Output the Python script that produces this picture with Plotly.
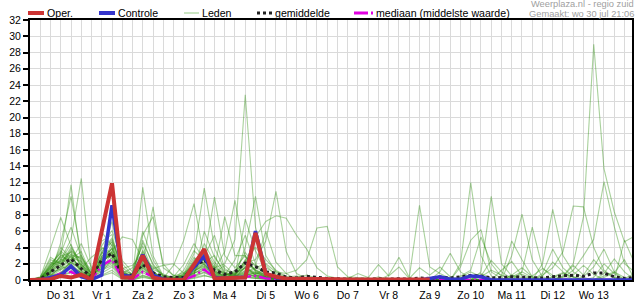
import plotly.graph_objects as go
import pandas as pd

# ---------------- data ----------------
start = "2025-07-30 18:00"          # first 6-hourly step
n_steps = 60
tijden = pd.date_range(start, periods=n_steps, freq="6h")

dag_labels = ["Do 31", "Vr 1", "Za 2", "Zo 3", "Ma 4", "Di 5", "Wo 6",
              "Do 7", "Vr 8", "Za 9", "Zo 10", "Ma 11", "Di 12", "Wo 13"]
dag_datums = ["2025-07-31", "2025-08-01", "2025-08-02", "2025-08-03", "2025-08-04",
              "2025-08-05", "2025-08-06", "2025-08-07", "2025-08-08", "2025-08-09",
              "2025-08-10", "2025-08-11", "2025-08-12", "2025-08-13"]

y_ticks = [0, 2, 4, 6, 8, 10, 12, 14, 16, 18, 20, 22, 24, 26, 28, 30, 32]

oper = [0, 0, 0.1, 0.5, 0.3, 0.65, 0.05, 6.0, 11.9, 0.3,
        0.3, 3.0, 0.3, 0.05, 0, 0, 1.9, 3.8, 0.2, 0.2,
        0.3, 0.3, 5.8, 0.75, 0.4, 0.15, 0.15, 0.15, 0.2, 0.15,
        0.1, 0.05, 0.05, 0.05, 0.05, 0.05, 0.05, 0.05, 0.05, 0.05]

controle = [0, 0, 0.3, 0.6, 1.7, 0.4, 0.05, 0.6, 9.2, 0.6,
            0.4, 3.1, 0.6, 0.1, 0, 0.1, 1.6, 2.95, 0.3, 0.2,
            0.3, 0.3, 6.0, 0.8, 0.3, 0, 0, 0, 0, 0,
            0, 0, 0, 0, 0, 0, 0, 0, 0, 0.2,
            0.4, 0.1, 0.1, 0.5, 0.4, 0, 0, 0, 0, 0,
            0, 0, 0, 0, 0, 0, 0, 0, 0, 0]

gemiddelde = [0, 0.1, 1.0, 1.8, 2.6, 1.4, 0.4, 2.5, 3.3, 0.6,
              0.6, 1.9, 0.9, 0.4, 0.3, 0.3, 1.6, 2.5, 1.2, 0.7,
              1.0, 2.1, 1.65, 1.0, 0.85, 0.35, 0.25, 0.45, 0.3, 0.2,
              0.15, 0.1, 0.1, 0.1, 0.15, 0.1, 0.15, 0.1, 0.25, 0.2,
              0.35, 0.25, 0.4, 0.55, 0.5, 0.25, 0.3, 0.4, 0.35, 0.3,
              0.25, 0.4, 0.5, 0.6, 0.45, 0.85, 0.85, 0.4, 0.2, 0.3]

mediaan = [0, 0, 0.3, 0.8, 1.0, 0.4, 0.1, 1.8, 2.5, 0.3,
           0.1, 1.0, 0.4, 0.05, 0, 0.05, 0.5, 1.3, 0.3, 0.2,
           0.3, 0.4, 0.5, 0.2, 0.1, 0, 0, 0, 0, 0,
           0, 0, 0, 0, 0, 0, 0, 0, 0, 0,
           0, 0, 0, 0, 0, 0, 0, 0, 0, 0,
           0, 0, 0, 0, 0, 0, 0, 0, 0, 0]

# ensemble members, steps 0..25
leden_a = [
    [0,.1,1.2,2.5,5.0,12.5,.8, 2.1,3.4,.5, .3,1.8,.6, 0,0,.4,1.2, 2.0,.6,.3,.8, 1.5,.8,.3,.1,0],
    [0,.2,1.5,3.0,11.7,2.0,.4, 3.5,5.2,1.0, .5,2.4,.8, .1,0,.5,2.1, 3.0,1.0,.4,.2, .8,.5,.2,0,0],
    [0,.1,.8,4.6,10.3,3.1,.2, 1.8,4.0,.4, .2,3.5,1.1, 0,.2,.3,.9, 1.2,.5,.2,.4, 2.5,1.2,.6,.3,.1],
    [0,.3,3.9,7.7,4.2,1.5,.6, 2.6,3.1,.3, .1,1.2,.3, 0,0,.1,.6, 4.5,2.2,.8,.3, 1.0,.4,.2,.1,0],
    [.1,.2,2.0,3.3,6.5,2.8,1.2, 4.2,6.1,2.4, 1.0,4.6,2.0, .3,.1,.2,1.4, 2.6,10.2,3.0,1.5, 3.0,1.1,.4,.2,0],
    [0,.4,2.5,2.0,4.0,2.2,.5, 5.9,4.2,.7, .4,11.4,3.0, .5,.2,.8,3.2, 11.3,4.0,1.2,.8, 1.5,.6,.3,.1,0],
    [0,.1,.6,1.5,3.0,1.1,.3, 1.0,2.5,.6, .8,2.0,9.0, 1.5,.6,.4,.8, 1.5,.8,.5,1.2, 2.0,5.3,7.2,7.9,7.6],
    [0,0,.3,.9,2.2,1.6,.2, 3.0,7.2,1.2, .3,1.5,.5, 0,0,.2,1.0, 2.0,.7,.3,.5, .9,1.5,2.0,1.0,.8],
    [0,.2,1.0,2.2,3.5,1.8,.9, 2.0,4.4,.8, .5,5.5,7.8, 2.0,.5,.3,2.5, 3.2,1.5,2.0,5.0, 22.8,6.5,1.8,.6,.2],
    [0,.1,1.8,3.6,2.4,4.5,1.5, .9,3.6,5.3, 5.0,2.5,1.0, .2,1.8,4.9,9.4, 2.8,1.0,.6,1.0, 2.2,2.5,4.8,10.9,3.5],
    [0,.2,.5,1.2,2.0,.8,.1, 1.5,2.8,.4, .2,.9,.3, .1,0,1.2,3.6, 2.4,1.5,7.8,3.0, 3.0,1.0,.4,.2,0],
    [0,.3,1.6,2.8,2.5,3.0,.7, 3.3,5.0,1.5, .6,6.0,2.5, .4,.1,.5,1.8, 2.2,1.2,.8,.6, 4.0,10.3,3.0,1.0,.3],
    [0,.1,.9,1.9,3.8,2.0,.4, 2.4,3.9,.9, .4,2.2,.7, .2,.3,.6,2.0, 3.5,1.6,.7,.4, 1.2,.7,1.5,.8,.2],
    [0,.2,1.3,2.6,1.8,.9,.3, 4.8,5.6,.6, .3,3.0,1.4, 1.8,2.0,.8,.5, 1.0,.4,.2,.3, .6,.9,.5,.3,0],
    [0,.1,.4,1.0,1.5,.6,.2, 1.2,1.8,.3, .1,.6,.2, 0,.1,.3,.7, 6.0,2.8,1.0,.5, 7.5,3.6,1.0,.4,.1],
    [.1,.3,2.8,2.0,2.9,1.3,.5, 2.7,3.0,.8, 1.5,4.2,1.0, .3,.4,1.9,4.5, 2.4,1.3,3.5,9.8, 2.8,1.8,6.0,2.2,.8],
    [0,.1,1.1,3.1,2.1,1.4,2.8, 3.8,4.6,2.0, .6,1.6,.4, .1,0,.2,1.1, 1.7,.9,.4,.7, 1.9,1.2,.5,.2,.1],
    [0,.2,.7,1.4,2.6,3.5,.6, 1.6,2.2,.5, .3,2.8,1.6, .5,.2,.4,.9, 2.9,5.5,1.4,.6, 1.4,.8,.9,.4,.2],
    [0,.1,1.9,2.3,3.2,1.0,.3, 2.2,3.2,.7, .2,1.9,.9, 0,.2,.6,2.8, 1.9,.8,.6,2.5, 5.5,2.0,.6,.3,.1],
    [0,.2,1.4,4.0,2.7,2.3,.8, 3.4,2.6,.4, .4,4.9,1.8, .6,.3,.4,1.5, 3.8,1.9,.5,.4, .8,.4,.3,.1,0],
    [0,.1,.2,.5,.9,.4,0, .6,1.2,.2, 0,.3,.1, 0,0,0,.2, .5,.3,.1,.1, .3,.2,.1,0,0],
    [0,.3,2.2,1.7,3.6,2.5,1.0, 2.9,3.8,1.1, .8,2.6,.6, .2,.5,.9,1.7, 2.5,.9,1.8,.6, 2.4,4.0,2.5,1.2,.4],
    [0,.1,.5,1.7,1.2,.7,.2, 1.9,2.3,.5, .2,1.1,.5, 0,.1,.2,.5, 1.3,.5,.3,.2, .7,.4,.2,.1,0],
    [0,.2,1.0,2.4,4.4,1.6,.4, 2.3,3.5,.6, .3,2.0,1.3, .7,.2,.5,1.3, 2.1,3.0,.8,.5, 1.1,.6,.4,.2,.1],
    [0,.1,.6,.8,2.3,1.9,.1, .8,1.6,.2, .1,.5,.2, 0,0,.1,.4, .9,.3,.2,.1, .5,.3,.1,0,0],
    [0,.2,1.7,3.4,1.6,.9,.4, 4.0,3.3,.9, .5,3.7,.8, .1,.2,.7,2.3, 3.1,1.1,.5,.9, 3.4,1.6,.8,.5,.2],
    [0,.1,.9,2.1,3.1,2.7,.7, 1.3,2.0,.3, .2,1.4,.4, 0,0,.3,1.6, 2.7,1.4,.9,.3, 1.6,.9,.3,.1,0],
    [0,.1,1.1,1.3,2.2,1.2,.2, 2.8,4.8,.7, .4,1.7,.6, .1,.1,.2,.8, 1.6,.6,.3,.6, 2.0,1.3,.6,.3,.1],
    [0,0,.4,.6,1.0,.5,.1, .5,.9,.1, 0,.4,.1, 0,0,0,.3, .6,.2,.1,0, .4,.2,.1,0,0],
    [0,.2,1.5,2.9,3.4,.6,.2, 2.5,3.0,1.4, 1.8,3.3,.9, .3,.1,.3,1.1, 1.8,.7,.4,.2, 1.7,.6,.4,.2,.1],
]

# ensemble members, steps 26..59
leden_b = [
    [0,0,0,0, 0,0,0,0, 0,0,0,0, 0,.2,.5,.3, 0,0,.4,1.2, .6,0,0,0, 0,.3,.8,.4, 0,0,.5,1.0, .3,0],
    [0,0,0,0, 0,0,0,0, 0,0,0,0, 0,0,0,0, 0,0,0,0, 0,.3,.7,.2, 0,0,0,0, 0,0,0,0, 0,0],
    [.1,0,0,0, 0,0,0,0, 0,0,0,0, 0,0,0,0, .3,1.0,.4,0, 0,0,0,.5, 1.4,.6,0,0, 0,.3,2.0,.8, 0,0],
    [0,0,0,0, 0,0,0,0, 0,0,0,0, 0,0,0,0, 0,0,0,0, 0,.6,1.5,.4, 0,0,0,0, 0,0,0,0, .2,.8],
    [0,0,0,0, 0,0,0,0, .4,0,0,0, 0,0,0,0, 0,0,0,0, 0,0,0,0, 0,0,0,.6, 1.8,.7,0,0, 0,0],
    [0,0,0,0, 0,0,0,0, 0,0,0,0, 0,0,0,0, 2.0,12.0,3.0,.5, 0,0,0,0, 0,0,0,0, 0,0,.8,2.6, 1.0,0],
    [5.5,3.8,1.5,.5, .2,0,0,0, 0,0,0,0, 0,0,0,0, 0,0,0,0, 0,0,0,0, 0,0,0,0, 0,0,0,0, 0,0],
    [1.2,2.5,6.4,6.6, 1.6,.4,.3,.2, 0,0,0,0, 0,0,0,0, 0,0,0,0, 0,.4,1.0,.3, 0,0,0,0, 0,0,0,0, 0,0],
    [0,0,0,0, 0,0,0,0, 0,0,0,0, 0,0,0,0, 0,0,0,0, 0,0,0,0, 0,0,0,0, 0,0,0,0, 0,0],
    [.8,.2,0,0, 0,0,0,0, 0,0,0,0, 0,0,0,0, 0,0,0,0, 0,0,0,0, 2.0,8.7,3.0,1.0, .3,0,0,0, 0,0],
    [0,0,0,0, 0,.2,.8,.3, 1.9,.5,1.6,.2, 1.5,.6,1.6,.4, 0,0,0,0, 0,0,0,0, 0,0,0,0, 0,0,0,0, 0,0],
    [0,0,0,0, 0,0,0,0, 0,.6,2.8,.3, 9.2,1.6,.8,.2, 0,0,0,0, 0,0,0,0, 0,0,0,0, 0,0,0,0, 0,0],
    [0,0,0,0, 0,0,0,0, 0,0,0,0, 0,0,1.0,3.3, 1.0,.2,0,0, 0,0,0,0, .5,2.2,1.0,0, 0,0,0,0, 0,0],
    [0,0,0,0, 0,0,0,0, 0,0,0,0, 0,0,0,0, 1.6,4.9,6.2,1.0, .2,0,0,0, 0,0,0,0, 0,0,0,0, 0,0],
    [0,0,0,0, 0,0,0,0, 0,0,0,0, 0,0,0,0, .5,1.2,5.3,2.0, .4,4.8,2.5,.4, 0,0,0,0, 0,0,0,0, 0,0],
    [0,0,0,0, 0,0,0,0, 0,0,0,0, 0,0,0,0, 0,0,1.0,10.3, 2.0,.5,0,0, 0,0,0,0, 0,0,0,0, 0,0],
    [0,0,0,0, 0,0,0,0, 0,0,0,0, 0,0,0,0, 0,0,0,0, 0,3.0,8.1,2.5, .4,0,0,0, 0,0,0,0, 0,0],
    [0,0,0,0, 0,0,0,0, 0,0,0,0, 0,0,0,0, 0,0,0,0, 0,0,1.0,6.5, 1.5,.3,0,0, 0,0,0,0, 0,0],
    [0,0,0,0, 0,0,0,0, 0,0,0,0, 0,0,0,0, 0,0,0,0, 0,0,0,0, .6,1.5,3.5,9.1, 9.0,4.0,1.2,.3, 0,0],
    [0,0,0,0, 0,0,0,0, 0,0,0,0, 0,0,0,0, 0,0,0,0, 0,0,0,0, 0,0,.5,2.0, 7.8,29.0,13.7,8.4, 4.7,5.4],
    [0,0,0,0, 0,0,0,0, 0,0,0,0, 0,0,0,0, 0,0,0,0, 0,0,0,0, 0,0,.3,1.2, 3.0,5.0,12.1,6.6, 2.0,1.0],
    [.5,.3,0,0, 0,0,0,0, 0,0,0,0, 0,0,0,0, 0,.3,.8,.2, 0,.6,.3,0, 0,0,.4,1.8, .6,2.5,1.0,.3, 0,0],
    [0,0,0,0, 0,0,0,0, 0,0,0,0, 0,0,0,0, 0,0,0,0, 1.2,2.3,.5,0, 0,0,0,0, 0,0,0,0, 0,0],
    [0,0,0,0, 0,0,0,0, 0,0,0,0, 0,0,0,0, 0,0,0,0, 0,0,0,0, .8,3.8,1.5,.4, 0,0,0,0, 4.9,2.0],
    [0,0,0,0, 0,.3,.1,0, 0,0,0,0, 0,0,0,0, 0,0,0,0, 0,0,0,0, 0,0,0,0, 0,0,0,0, 0,0],
    [.3,.6,.2,0, 0,0,0,0, 0,0,0,0, 0,0,0,0, 0,0,.5,2.4, 1.0,.2,0,0, 0,0,0,0, 0,0,0,0, 0,0],
    [0,0,0,0, 0,0,0,0, 0,0,0,0, 0,0,0,0, 0,0,0,0, 0,0,0,0, 0,0,0,0, .4,1.6,3.8,1.0, 0,0],
    [0,0,0,0, 0,0,0,0, 0,0,0,0, 0,0,0,0, 0,0,0,0, 0,0,0,0, 0,0,0,0, 0,0,0,0, 0,0],
    [0,0,0,0, 0,0,0,0, 0,0,0,0, 0,0,0,0, 0,0,0,0, 0,0,0,0, 0,0,0,0, 0,0,0,0, 0,0],
    [0,0,0,0, 0,0,0,0, 0,0,0,0, 0,0,0,0, 0,0,0,0, 0,0,0,0, 0,.4,.9,.3, 0,0,.3,.9, 2.5,0],
]

leden = [a + b for a, b in zip(leden_a, leden_b)]
for m in leden:
    assert len(m) == n_steps, len(m)

# ---------------- figure ----------------
W, H = 635, 300
ML, MR, MT, MB = 30, 3, 20, 20
FONT = "Liberation Sans, Arial, sans-serif"
x_range = ["2025-07-30 18:00", "2025-08-14 10:24"]

fig = go.Figure()

for m in leden:
    fig.add_trace(go.Scatter(x=tijden, y=m, mode="lines",
                             line=dict(color="rgba(50,145,20,0.42)", width=1.1),
                             hoverinfo="skip", showlegend=False))

fig.add_trace(go.Scatter(x=tijden, y=mediaan, mode="lines",
                         line=dict(color="#e000e0", width=2.5, dash="12px,3px,2px,3px"),
                         showlegend=False))
fig.add_trace(go.Scatter(x=tijden, y=gemiddelde, mode="lines",
                         line=dict(color="#222222", width=3, dash="dot"),
                         showlegend=False))
fig.add_trace(go.Scatter(x=tijden, y=controle, mode="lines",
                         line=dict(color="#3535cc", width=3.5),
                         showlegend=False))
fig.add_trace(go.Scatter(x=tijden[:len(oper)], y=oper, mode="lines",
                         line=dict(color="#cc3434", width=4),
                         showlegend=False))

tick_vals = [t.strftime("%Y-%m-%d %H:%M") for t in tijden]
label_map = {d + " 12:00": l for d, l in zip(dag_datums, dag_labels)}
tick_text = [label_map.get(v, "") for v in tick_vals]
midnights = [t.strftime("%Y-%m-%d %H:%M") for t in tijden if t.hour == 0]

fig.update_layout(
    width=W, height=H,
    margin=dict(l=ML, r=MR, t=MT, b=MB, pad=0, autoexpand=False),
    paper_bgcolor="white", plot_bgcolor="white",
    font=dict(family=FONT, size=10, color="black"),
    showlegend=False,
    xaxis=dict(type="date", range=x_range, tickmode="array",
               tickvals=tick_vals, ticktext=tick_text, automargin=False,
               ticks="outside", ticklen=4, tickwidth=1.5, tickcolor="black",
               showgrid=True, gridcolor="#dadada", gridwidth=1,
               showline=True, linecolor="black", linewidth=2, mirror=True,
               zeroline=False, tickfont=dict(size=10.5, family=FONT)),
    xaxis2=dict(type="date", range=x_range, overlaying="x", anchor="y", side="top",
                tickmode="array", tickvals=tick_vals, automargin=False,
                ticks="inside", ticklen=9, tickwidth=1, tickcolor="black",
                showticklabels=False, showgrid=False, showline=False, zeroline=False),
    xaxis3=dict(type="date", range=x_range, overlaying="x", anchor="y",
                tickmode="array", tickvals=midnights, ticks="", automargin=False,
                showticklabels=False, showgrid=True, gridcolor="#555555", gridwidth=1.5,
                showline=False, zeroline=False),
    yaxis=dict(range=[0, 32], tickmode="array", tickvals=y_ticks, automargin=False,
               ticks="outside", ticklen=5, tickwidth=1.5, tickcolor="black",
               showgrid=True, gridcolor="#dadada", gridwidth=1,
               showline=True, linecolor="black", linewidth=2, mirror=True,
               zeroline=False, tickfont=dict(size=10.5, family=FONT)),
)

# custom legend across the top (pixel positions converted to paper coords)
PW = W - ML - MR
PH = H - MT - MB


def px(xp):
    return (xp - ML) / PW


def py(yp):
    return (H - MB - yp) / PH


legend_items = [
    ("Oper.", 28, 44, dict(color="#cc3434", width=4)),
    ("Controle", 99, 115, dict(color="#3535cc", width=4)),
    ("Leden", 184, 199, dict(color="#b9dcae", width=1.5)),
    ("gemiddelde", 257, 272, dict(color="#222222", width=3, dash="dot")),
    ("mediaan (middelste waarde)", 354, 373, dict(color="#e000e0", width=3, dash="14px,3px,2px,3px")),
]
LY = 13
for label, x0, x1, ln in legend_items:
    fig.add_shape(type="line", xref="paper", yref="paper",
                  x0=px(x0), x1=px(x1), y0=py(LY), y1=py(LY), line=ln)
    fig.add_annotation(xref="paper", yref="paper", x=px(x1 + 1), y=py(LY),
                       xanchor="left", yanchor="middle", showarrow=False,
                       text=label, font=dict(family=FONT, size=10.6, color="black"))

fig.add_annotation(xref="paper", yref="paper", x=px(635), y=py(3.5),
                   xanchor="right", yanchor="middle", showarrow=False, borderpad=0,
                   text="Weerplaza.nl - regio zuid",
                   font=dict(family=FONT, size=9.3, color="#a0a0a0"))
fig.add_annotation(xref="paper", yref="paper", x=px(635), y=py(14),
                   xanchor="right", yanchor="middle", showarrow=False, borderpad=0,
                   text="Gemaakt: wo 30 jul 21:06",
                   font=dict(family=FONT, size=9.3, color="#a0a0a0"))

fig.write_html("out.html")
